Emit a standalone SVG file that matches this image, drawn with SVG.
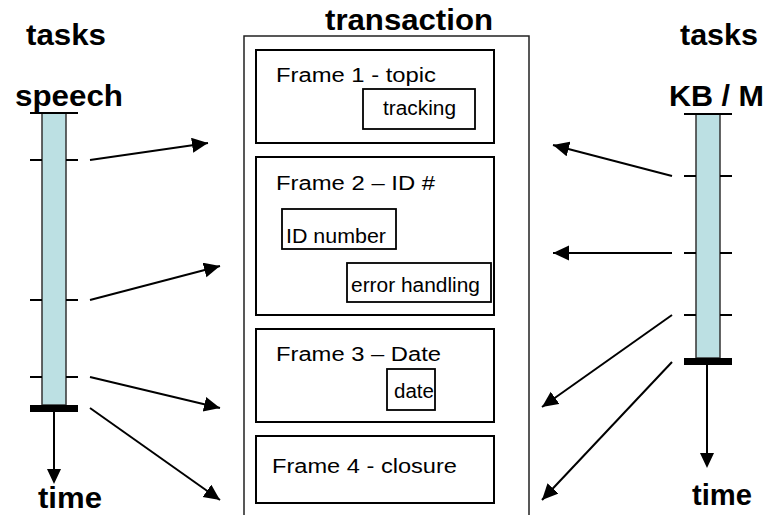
<svg xmlns="http://www.w3.org/2000/svg" width="767" height="515" viewBox="0 0 767 515">
  <style>
    .title { font-family: "Liberation Sans", Arial, sans-serif; font-weight: bold; font-size: 30px; fill: #000; }
    .label { font-family: "Liberation Sans", Arial, sans-serif; font-size: 20px; fill: #000; }
    .frame { fill: #fff; stroke: #000; stroke-width: 2; }
    .slot { fill: #fff; stroke: #000; stroke-width: 1.8; }
    .bar { fill: #bce0e3; stroke: #333; stroke-width: 1.5; }
    .tick { stroke: #000; stroke-width: 2; }
    .conn { stroke: #000; stroke-width: 2; fill: none; marker-end: url(#arrow); }
  </style>
  <defs>
    <marker id="arrow" markerUnits="userSpaceOnUse" markerWidth="18" markerHeight="16" refX="16" refY="7.5" orient="auto">
      <path d="M0,0 L16,7.5 L0,15 z" fill="#000"/>
    </marker>
  </defs>
  <rect width="767" height="515" fill="#fff"/>

  <!-- column headings -->
  <text class="title" x="26" y="45" textLength="80" lengthAdjust="spacingAndGlyphs">tasks</text>
  <text class="title" x="680" y="45" textLength="78" lengthAdjust="spacingAndGlyphs">tasks</text>
  <text class="title" x="325" y="30" textLength="168" lengthAdjust="spacingAndGlyphs">transaction</text>

  <!-- speech timeline -->
  <g id="speech-timeline">
    <text class="title" x="15" y="106" textLength="108" lengthAdjust="spacingAndGlyphs">speech</text>
    <rect class="bar" x="42" y="113" width="24" height="292"/>
    <line class="tick" x1="30" y1="113" x2="78" y2="113"/>
    <line class="tick" x1="30" y1="160" x2="42" y2="160"/>
    <line class="tick" x1="66" y1="160" x2="78" y2="160"/>
    <line class="tick" x1="30" y1="300" x2="42" y2="300"/>
    <line class="tick" x1="66" y1="300" x2="78" y2="300"/>
    <line class="tick" x1="30" y1="377" x2="42" y2="377"/>
    <line class="tick" x1="66" y1="377" x2="78" y2="377"/>
    <rect x="30" y="405" width="48" height="7" fill="#000"/>
    <line x1="54" y1="412" x2="54" y2="470" stroke="#000" stroke-width="2"/>
    <path d="M47,469 L61,469 L54,484 z" fill="#000"/>
    <text class="title" x="38" y="508" textLength="64" lengthAdjust="spacingAndGlyphs">time</text>
  </g>

  <!-- KB / M timeline -->
  <g id="kbm-timeline">
    <text class="title" x="669" y="106" textLength="95" lengthAdjust="spacingAndGlyphs">KB / M</text>
    <rect class="bar" x="696" y="114" width="24" height="244"/>
    <line class="tick" x1="684" y1="114" x2="732" y2="114"/>
    <line class="tick" x1="684" y1="176" x2="696" y2="176"/>
    <line class="tick" x1="720" y1="176" x2="732" y2="176"/>
    <line class="tick" x1="684" y1="253" x2="696" y2="253"/>
    <line class="tick" x1="720" y1="253" x2="732" y2="253"/>
    <line class="tick" x1="684" y1="315" x2="696" y2="315"/>
    <line class="tick" x1="720" y1="315" x2="732" y2="315"/>
    <rect x="684" y="358" width="48" height="7" fill="#000"/>
    <line x1="707" y1="365" x2="707" y2="455" stroke="#000" stroke-width="2"/>
    <path d="M700,453 L714,453 L707,468 z" fill="#000"/>
    <text class="title" x="692" y="505" textLength="60" lengthAdjust="spacingAndGlyphs">time</text>
  </g>

  <!-- transaction container -->
  <g id="transaction">
    <path d="M244,515 V36 H529 V515" fill="none" stroke="#222" stroke-width="1.5"/>
  </g>

  <g id="frame1">
    <rect class="frame" x="256" y="50" width="238" height="93"/>
    <text class="label" x="276" y="82" textLength="160" lengthAdjust="spacingAndGlyphs">Frame 1 - topic</text>
    <rect class="slot" x="363" y="89" width="112" height="40"/>
    <text class="label" x="383" y="115" textLength="73" lengthAdjust="spacingAndGlyphs">tracking</text>
  </g>

  <g id="frame2">
    <rect class="frame" x="256" y="157" width="238" height="158"/>
    <text class="label" x="276" y="190" textLength="159" lengthAdjust="spacingAndGlyphs">Frame 2 – ID #</text>
    <rect class="slot" x="282" y="209" width="114" height="40"/>
    <text class="label" x="286" y="243" textLength="100" lengthAdjust="spacingAndGlyphs">ID number</text>
    <rect class="slot" x="347" y="263" width="144" height="39"/>
    <text class="label" x="351" y="292" textLength="129" lengthAdjust="spacingAndGlyphs">error handling</text>
  </g>

  <g id="frame3">
    <rect class="frame" x="256" y="329" width="238" height="93"/>
    <text class="label" x="276" y="361" textLength="165" lengthAdjust="spacingAndGlyphs">Frame 3 – Date</text>
    <rect class="slot" x="387" y="369" width="48" height="41"/>
    <text class="label" x="394" y="398" textLength="40" lengthAdjust="spacingAndGlyphs">date</text>
  </g>

  <g id="frame4">
    <rect class="frame" x="256" y="436" width="238" height="67"/>
    <text class="label" x="272" y="473" textLength="185" lengthAdjust="spacingAndGlyphs">Frame 4 - closure</text>
  </g>

  <!-- task-to-frame connectors -->
  <g id="connectors">
    <line class="conn" x1="90" y1="160" x2="208" y2="143"/>
    <line class="conn" x1="90" y1="300" x2="220" y2="266"/>
    <line class="conn" x1="90" y1="377" x2="220" y2="408"/>
    <line class="conn" x1="90" y1="408" x2="220" y2="500"/>
    <line class="conn" x1="672" y1="176" x2="553" y2="145"/>
    <line class="conn" x1="672" y1="253" x2="553" y2="253"/>
    <line class="conn" x1="672" y1="315" x2="542" y2="407"/>
    <line class="conn" x1="672" y1="362" x2="542" y2="500"/>
  </g>
</svg>
